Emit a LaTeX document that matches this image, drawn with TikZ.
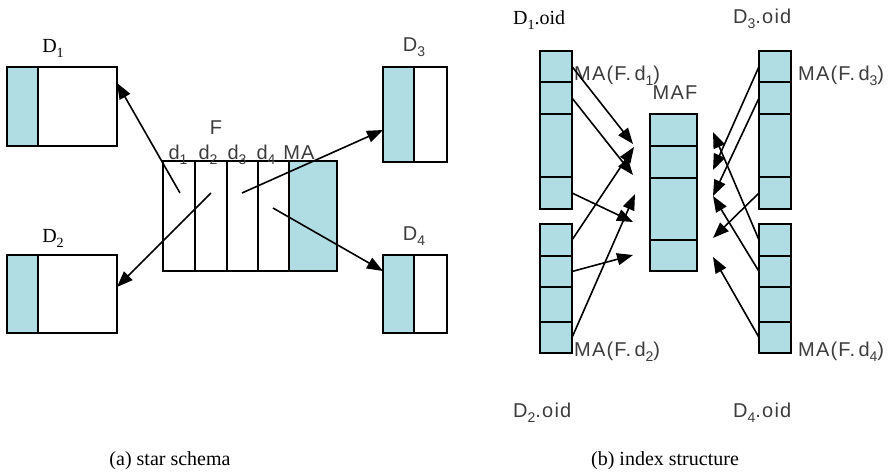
\documentclass[tikz,border=0pt]{standalone}
\usepackage{fontspec}
\setmainfont{Liberation Serif}
\newfontfamily\gs[LetterSpace=6]{Liberation Sans}
\usetikzlibrary{arrows.meta}
\definecolor{cellblue}{RGB}{176,221,228}
\definecolor{txtgray}{RGB}{60,60,60}
\newcommand\lsub[1]{\raisebox{-0.28em}{\fontsize{14}{14}\selectfont #1}}
\begin{document}
\begin{tikzpicture}[x=1pt,y=-1pt,
  box/.style={draw, line width=1.8pt, inner sep=0pt, outer sep=0pt, anchor=north west},
  shaded/.style={box, fill=cellblue},
  plain/.style={box, fill=white},
  arr/.style={line width=1.6pt, -{Triangle[length=16pt,width=12pt]}},
  sans/.style={font=\gs\fontsize{20}{20}\selectfont, text=txtgray, inner sep=0pt, anchor=base},
  serif/.style={font=\fontsize{20}{20}\selectfont, inner sep=0pt, anchor=base},
  captiontext/.style={font=\fontsize{20}{20}\selectfont, inner sep=0pt, anchor=base}]
\path[use as bounding box] (0,0) rectangle (893,472);

% ---------- (a) star schema ----------
\node[shaded, minimum width=31pt, minimum height=79pt] (D1s) at (7,67) {};
\node[plain, minimum width=79pt, minimum height=79pt] (D1w) at (38,67) {};
\node[shaded, minimum width=31pt, minimum height=78pt] (D2s) at (7,255) {};
\node[plain, minimum width=79pt, minimum height=78pt] (D2w) at (38,255) {};
\node[shaded, minimum width=31pt, minimum height=95pt] (D3s) at (383,67) {};
\node[plain, minimum width=33pt, minimum height=95pt] (D3w) at (414,67) {};
\node[shaded, minimum width=31pt, minimum height=78pt] (D4s) at (383,255) {};
\node[plain, minimum width=33pt, minimum height=78pt] (D4w) at (414,255) {};

\node[serif] (lD1) at (53,52) {D\lsub{1}};
\node[serif] (lD2) at (53,242) {D\lsub{2}};
\node[sans] (lD3) at (414,51) {D\lsub{3}};
\node[sans] (lD4) at (414,240) {D\lsub{4}};

\node[plain, minimum width=32pt, minimum height=110pt] (F1) at (163,161) {};
\node[plain, minimum width=32pt, minimum height=110pt] (F2) at (195,161) {};
\node[plain, minimum width=31pt, minimum height=110pt] (F3) at (227,161) {};
\node[plain, minimum width=31pt, minimum height=110pt] (F4) at (258,161) {};
\node[shaded, minimum width=48pt, minimum height=110pt] (F5) at (289,161) {};

\node[sans] (lF) at (216,134) {F};
\node[sans] (ld1) at (178,159) {d\lsub{1}};
\node[sans] (ld2) at (208,159) {d\lsub{2}};
\node[sans] (ld3) at (237,159) {d\lsub{3}};
\node[sans] (ld4) at (266,159) {d\lsub{4}};
\node[sans] (lMA) at (299,159) {MA};

\coordinate (s1) at (180,193);
\coordinate (s2) at (211,193);
\coordinate (s3) at (242,193);
\coordinate (s4) at (273,208);
\coordinate (e1) at (117,83);
\coordinate (e2) at (117,287);
\coordinate (e3) at (383,130);
\coordinate (e4) at (383,271);
\draw[arr] (s1) -- (e1);
\draw[arr] (s2) -- (e2);
\draw[arr] (s3) -- (e3);
\draw[arr] (s4) -- (e4);

% ---------- (b) index structure ----------
\foreach \c/\x in {1/540, 3/759} {
  \node[shaded, minimum width=32pt, minimum height=31pt] (c\c1) at (\x,51) {};
  \node[shaded, minimum width=32pt, minimum height=32pt] (c\c2) at (\x,82) {};
  \node[shaded, minimum width=32pt, minimum height=63pt] (c\c3) at (\x,114) {};
  \node[shaded, minimum width=32pt, minimum height=32pt] (c\c4) at (\x,177) {};
}
\foreach \c/\x in {2/540, 4/759} {
  \node[shaded, minimum width=32pt, minimum height=32pt] (c\c1) at (\x,224) {};
  \node[shaded, minimum width=32pt, minimum height=31pt] (c\c2) at (\x,256) {};
  \node[shaded, minimum width=32pt, minimum height=35pt] (c\c3) at (\x,287) {};
  \node[shaded, minimum width=32pt, minimum height=31pt] (c\c4) at (\x,322) {};
}
\node[shaded, minimum width=47pt, minimum height=32pt] (m1) at (650,114) {};
\node[shaded, minimum width=47pt, minimum height=32pt] (m2) at (650,146) {};
\node[shaded, minimum width=47pt, minimum height=62pt] (m3) at (650,178) {};
\node[shaded, minimum width=47pt, minimum height=31pt] (m4) at (650,240) {};

\node[serif, anchor=base west] (lD1oid) at (513,24) {D\lsub{1}.oid};
\node[sans, anchor=base west] (lD3oid) at (733,23) {D\lsub{3}.oid};
\node[sans, anchor=base west] (lD2oid) at (513,417) {D\lsub{2}.oid};
\node[sans, anchor=base west] (lD4oid) at (733,417) {D\lsub{4}.oid};
\node[sans, anchor=base west] (lMA1) at (574,80) {MA(F.\,d\lsub{1})};
\node[sans, anchor=base west] (lMA3) at (798,80) {MA(F.\,d\lsub{3})};
\node[sans, anchor=base west] (lMA2) at (574,356) {MA(F.\,d\lsub{2})};
\node[sans, anchor=base west] (lMA4) at (798,356) {MA(F.\,d\lsub{4})};
\node[sans] (lMAF) at (675,99) {MAF};

\coordinate (tL1) at (633,144);
\coordinate (tL2) at (633,175);
\coordinate (tL3) at (633,222);
\coordinate (tL4) at (634,147);
\coordinate (tL5) at (633,255);
\coordinate (tL6) at (635,194);
\draw[arr] (c11.east) -- (tL1);
\draw[arr] (c12.east) -- (tL2);
\draw[arr] (c14.east) -- (tL3);
\draw[arr] (c21.east) -- (tL4);
\draw[arr] (c22.east) -- (tL5);
\draw[arr] (c24.east) -- (tL6);

\coordinate (tR1) at (713,170);
\coordinate (tR2) at (713,196);
\coordinate (tR3) at (713,238);
\coordinate (tR4) at (713,132);
\coordinate (tR5) at (713,196);
\coordinate (tR6) at (713,257);
\draw[arr] (c31.west) -- (tR1);
\draw[arr] (c32.west) -- (tR2);
\draw[arr] (c34.west) -- (tR3);
\draw[arr] (c41.west) -- (tR4);
\draw[arr] (c42.west) -- (tR5);
\draw[arr] (c44.west) -- (tR6);

\node[captiontext] (capa) at (170,465) {(a) star schema};
\node[captiontext] (capb) at (665,465) {(b) index structure};
\end{tikzpicture}
\end{document}
